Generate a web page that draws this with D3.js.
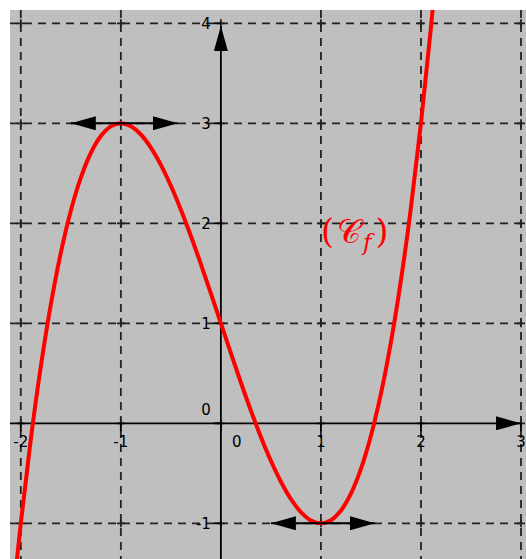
<!DOCTYPE html>
<html>
<head>
<meta charset="utf-8">
<script src="https://cdn.jsdelivr.net/npm/d3@7"></script>
<style>
  body { margin: 0; background: #fff; }
  svg { display: block; }
</style>
</head>
<body>
<script>
let W = 526, H = 559;

// points
let xs = [-2.1,-2.0,-1.9,-1.8,-1.7,-1.6,-1.5,-1.4,-1.3,-1.2,-1.1,-1.0,-0.9,-0.8,-0.7,-0.6,-0.5,-0.4,-0.3,-0.2,-0.1,0,
          0.1,0.2,0.3,0.4,0.5,0.6,0.7,0.8,0.9,1.0,1.1,1.2,1.3,1.4,1.5,1.6,1.7,1.8,1.9,2.0,2.1,2.2];
let ys = [-1.961,-1,-0.159,0.568,1.187,1.704,2.125,2.456,2.703,2.872,2.969,3,2.971,2.888,2.757,2.584,2.375,2.136,1.873,1.592,1.299,1,
          0.701,0.408,0.127,-0.136,-0.375,-0.584,-0.757,-0.888,-0.971,-1,-0.969,-0.872,-0.703,-0.456,-0.125,0.296,0.813,1.432,2.159,3,3.961,5.048];
let xTicks = [-2,-1,0,1,2,3];
let yTicks = [-1,0,1,2,3,4];
// horizontal tangents [x1, x2, y]
let tangents = [[-1.5,-0.43,3],[0.5,1.54,-1]];

let x = d3.scaleLinear().domain([-2,3]).range([20.8,521]);
let y = d3.scaleLinear().domain([-1,4]).range([523.3,23.3]);

let svg = d3.select("body").append("svg").attr("width",W).attr("height",H);
let defs = svg.append("defs");
defs.append("clipPath").attr("id","plot").append("rect")
  .attr("x",10).attr("y",10).attr("width",W-10).attr("height",H-10);
defs.append("marker").attr("id","ah").attr("viewBox","0 0 25 14")
  .attr("refX",25).attr("refY",7).attr("markerWidth",25).attr("markerHeight",14)
  .attr("markerUnits","userSpaceOnUse").attr("orient","auto-start-reverse")
  .append("path").attr("d","M0,0L25,7L0,14Z").attr("fill","#000");

svg.append("rect").attr("x",10).attr("y",10).attr("width",W-10).attr("height",H-10).attr("fill","#bfbfbf");

let g = svg.append("g").attr("clip-path","url(#plot)");

// dashed grid
g.selectAll(".vg").data(xTicks.filter(d=>d!==0)).enter().append("line")
  .attr("x1",d=>x(d)).attr("x2",d=>x(d)).attr("y1",10).attr("y2",H)
  .attr("stroke","#222").attr("stroke-width",1.8).attr("stroke-dasharray","8,6");
g.selectAll(".hg").data(yTicks.filter(d=>d!==0)).enter().append("line")
  .attr("y1",d=>y(d)).attr("y2",d=>y(d)).attr("x1",10).attr("x2",W)
  .attr("stroke","#222").attr("stroke-width",1.8).attr("stroke-dasharray","8,6");

// small crosses at grid nodes
xTicks.forEach(a=>yTicks.forEach(b=>{
  g.append("path").attr("d","M"+(x(a)-4)+","+y(b)+"H"+(x(a)+4)+"M"+x(a)+","+(y(b)-4)+"V"+(y(b)+4))
    .attr("stroke","#222").attr("stroke-width",1.8);
}));

// axes
g.append("line").attr("x1",10).attr("x2",x(3)).attr("y1",y(0)).attr("y2",y(0))
  .attr("stroke","#000").attr("stroke-width",1.8).attr("marker-end","url(#ah)");
g.append("line").attr("x1",x(0)).attr("x2",x(0)).attr("y1",H).attr("y2",26)
  .attr("stroke","#000").attr("stroke-width",1.8).attr("marker-end","url(#ah)");
g.selectAll(".xt").data(xTicks).enter().append("line")
  .attr("x1",d=>x(d)).attr("x2",d=>x(d)).attr("y1",y(0)).attr("y2",y(0)+8)
  .attr("stroke","#000").attr("stroke-width",1.8);
g.selectAll(".yt").data(yTicks).enter().append("line")
  .attr("y1",d=>y(d)).attr("y2",d=>y(d)).attr("x1",x(0)-7).attr("x2",x(0))
  .attr("stroke","#000").attr("stroke-width",1.8);

// tick labels
svg.selectAll(".xl").data(xTicks).enter().append("text")
  .attr("x",d=>d===0 ? x(0)+16 : x(d)).attr("y",y(0)+24)
  .attr("text-anchor","middle").attr("font-family","DejaVu Sans, sans-serif").attr("font-size",15)
  .attr("fill","#000").text(d=>d);
svg.selectAll(".yl").data(yTicks).enter().append("text")
  .attr("x",x(0)-10).attr("y",d=>d===0 ? y(0)-8 : y(d)+6)
  .attr("text-anchor","end").attr("font-family","DejaVu Sans, sans-serif").attr("font-size",15)
  .attr("fill","#000").text(d=>d);

// curve
let pts = xs.map((v,i)=>[v,ys[i]]);
g.append("path").datum(pts)
  .attr("d",d3.line().x(d=>x(d[0])).y(d=>y(d[1])).curve(d3.curveCatmullRom))
  .attr("fill","none").attr("stroke","#ff0000").attr("stroke-width",4);

// tangents
g.selectAll(".tg").data(tangents).enter().append("line")
  .attr("x1",d=>x(d[0])).attr("x2",d=>x(d[1])).attr("y1",d=>y(d[2])).attr("y2",d=>y(d[2]))
  .attr("stroke","#000").attr("stroke-width",2)
  .attr("marker-start","url(#ah)").attr("marker-end","url(#ah)");

// curve name
let lab = svg.append("text").attr("x",321).attr("y",243).attr("fill","#ff0000")
  .attr("font-family","DejaVu Serif, serif").attr("font-size",33);
lab.append("tspan").text("(");
lab.append("tspan").attr("dx",3).text("𝒞");
lab.append("tspan").attr("font-style","italic").attr("font-size",23).attr("dx",2).attr("dy",7).text("f");
lab.append("tspan").attr("dy",-7).attr("dx",4).text(")");
</script>
</body>
</html>
